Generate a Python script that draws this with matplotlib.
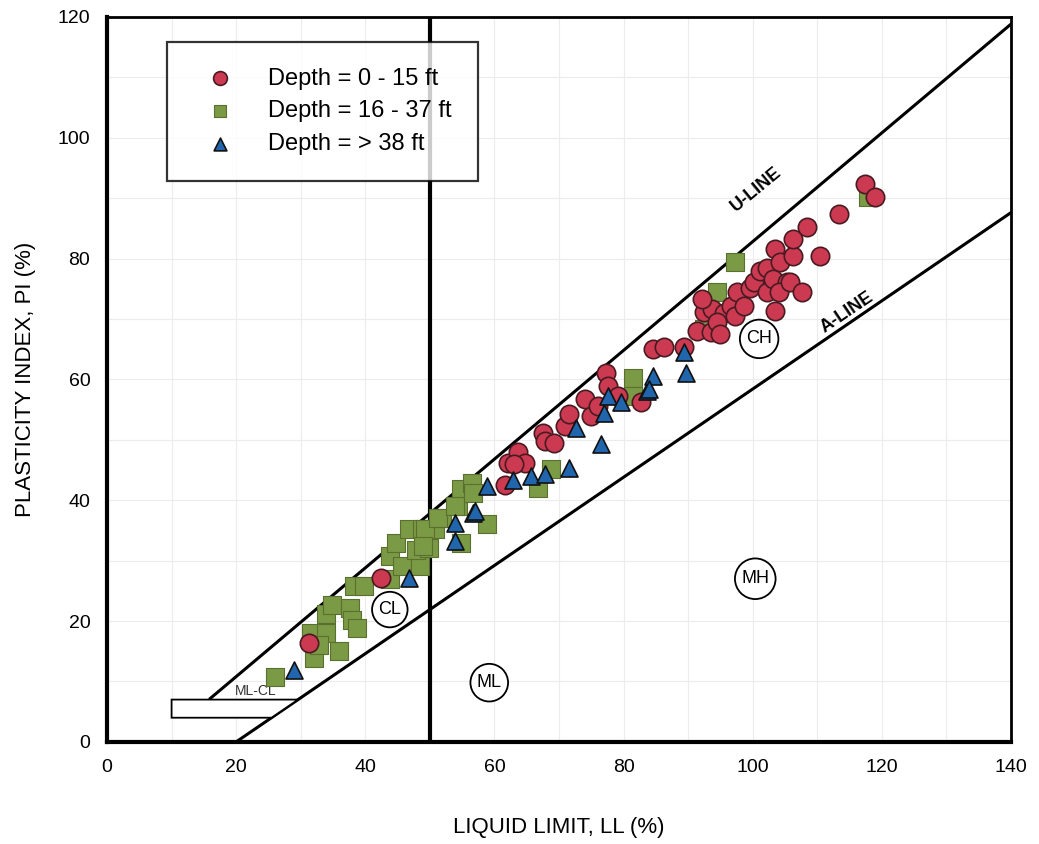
import numpy as np
import matplotlib.pyplot as plt
from matplotlib.patches import Polygon

# data
red_x = [31.3, 42.4, 61.6, 62.1, 63.7, 64.7, 63.0, 67.5, 67.8, 69.3, 70.9, 71.6, 74.0, 75.0, 76.0,
         77.3, 77.6, 79.1, 82.7, 84.5, 86.3, 89.4, 91.4, 93.5, 92.5, 93.7, 92.2, 95.5, 96.6, 97.3,
         97.6, 98.6, 99.6, 100.2, 101.2, 102.2, 102.2, 103.2, 103.5, 103.5, 104.3, 105.3, 104.0,
         105.8, 106.3, 106.3, 107.6, 108.4, 110.4, 113.3, 117.4, 118.9, 94.5, 95.0]
red_y = [16.4, 27.1, 42.6, 46.2, 47.9, 46.2, 46.0, 51.2, 49.8, 49.5, 52.3, 54.2, 56.7, 53.9, 55.6,
         61.1, 58.9, 57.3, 56.2, 65.0, 65.3, 65.3, 68.0, 67.8, 71.1, 71.6, 73.3, 71.0, 72.2, 70.5,
         74.4, 72.2, 75.2, 76.1, 78.0, 74.4, 78.5, 76.6, 71.4, 81.6, 79.4, 76.1, 74.4,
         76.1, 80.5, 83.3, 74.4, 85.2, 80.5, 87.4, 92.4, 90.2, 69.5, 67.5]

green_x = [26.0, 32.1, 32.1, 31.6, 33.9, 32.8, 35.9, 33.9, 34.9, 38.2, 39.8, 37.7, 38.0, 38.7,
           43.9, 43.9, 45.7, 48.5, 44.7, 47.8, 49.8, 46.7, 48.8, 50.8, 51.9, 54.4, 54.9, 54.9,
           49.3, 49.0, 51.3, 53.9, 56.5, 56.7, 58.8, 66.8, 68.8, 81.4, 81.4, 92.5, 94.5, 97.3, 117.8]
green_y = [10.8, 13.9, 16.4, 18.0, 18.0, 16.1, 15.0, 21.1, 22.7, 25.8, 25.8, 22.2, 20.2, 18.9,
           26.9, 30.7, 29.1, 29.1, 33.0, 31.8, 32.1, 35.2, 35.2, 35.2, 37.1, 39.0, 41.8, 33.0,
           35.2, 32.4, 37.1, 39.0, 42.9, 41.2, 36.0, 42.1, 45.1, 60.3, 57.3, 68.3, 74.4, 79.4, 90.2]

blue_x = [28.9, 46.7, 53.9, 53.9, 56.7, 57.0, 58.8, 62.9, 65.7, 67.8, 71.6, 72.7, 76.5, 77.0,
          77.6, 79.6, 83.7, 84.5, 89.4, 89.6, 84.0]
blue_y = [11.9, 27.1, 36.3, 33.2, 37.9, 38.2, 42.3, 43.4, 44.0, 44.3, 45.4, 52.0, 49.3, 54.5,
          57.3, 56.2, 58.1, 60.6, 64.5, 61.1, 58.4]

labels = ['Depth = 0 - 15 ft', 'Depth = 16 - 37 ft', 'Depth = > 38 ft']
zones = ['CL', 'ML', 'CH', 'MH']
zone_x = [43.8, 59.2, 101.0, 100.4]
zone_y = [21.9, 9.8, 66.7, 27.0]

plt.rcParams['font.family'] = ['Liberation Sans', 'DejaVu Sans']

fig = plt.figure(figsize=(10.39, 8.44), dpi=100)
ax = fig.add_axes([0.103, 0.121, 0.870, 0.859])
ax.set_xlim(0, 140)
ax.set_ylim(0, 120)

# faint grid
ax.set_xticks(np.arange(0, 141, 20))
ax.set_yticks(np.arange(0, 121, 20))
ax.set_xticks(np.arange(0, 141, 10), minor=True)
ax.set_yticks(np.arange(0, 121, 10), minor=True)
ax.grid(which='both', color='#ececec', lw=0.8, zorder=0)
ax.tick_params(which='both', length=0, labelsize=14, pad=12)

for s in ['left', 'bottom']:
    ax.spines[s].set_linewidth(3)
for s in ['top', 'right']:
    ax.spines[s].set_linewidth(2)

# U-line, A-line, LL=50
ux = np.array([16, 141.5])
ax.plot(ux, 0.9 * (ux - 8), color='black', lw=2.2, zorder=2)
axl = np.array([20, 140])
ax.plot(axl, 0.73 * (axl - 20), color='black', lw=2.2, zorder=2)
ax.axvline(50, color='black', lw=3, zorder=2)

# ML-CL band
ax.add_patch(Polygon([(10, 4), (20 + 4 / 0.73, 4), (20 + 7 / 0.73, 7), (10, 7)],
                     closed=True, facecolor='white', edgecolor='black', lw=1.3, zorder=2))
ax.text(23, 7.2, 'ML-CL', fontsize=10, ha='center', va='bottom', color='#333333', zorder=3)

ax.text(100.5, 91.5, 'U-LINE', fontsize=13, fontweight='bold', rotation=39.5,
        ha='center', va='center', zorder=3)
ax.text(114.6, 71.0, 'A-LINE', fontsize=13, fontweight='bold', rotation=34,
        ha='center', va='center', zorder=3)

ax.scatter(green_x, green_y, marker='s', s=150, color='#7b9a45', edgecolors='#5a7030',
           linewidths=0.8, zorder=4, label=labels[1])
ax.scatter(blue_x, blue_y, marker='^', s=150, color='#2166ac', edgecolors='#111111',
           linewidths=1.2, zorder=5, label=labels[2])
ax.scatter(red_x, red_y, marker='o', s=175, color='#cc3a52', edgecolors='#4a1a22',
           linewidths=1.2, zorder=4, label=labels[0])

for name, zx, zy in zip(zones, zone_x, zone_y):
    ax.text(zx, zy, name, fontsize=13, ha='center', va='center', zorder=6,
            bbox=dict(boxstyle='circle,pad=0.35', facecolor='white', edgecolor='black', lw=1.3))

h, l = ax.get_legend_handles_labels()
order = [2, 0, 1]
leg = ax.legend([h[i] for i in order], [l[i] for i in order], loc='upper left',
                bbox_to_anchor=(0.066, 0.966), fontsize=17, frameon=True, fancybox=False,
                borderpad=1.1, handletextpad=0.9, labelspacing=0.45, markerscale=0.75,
                borderaxespad=0, handlelength=2.3)
leg.get_frame().set_edgecolor('black')
leg.get_frame().set_linewidth(1.6)
leg.set_zorder(10)

ax.set_xlabel('LIQUID LIMIT, LL (%)', fontsize=16, labelpad=30)
ax.set_ylabel('PLASTICITY INDEX, PI (%)', fontsize=16, labelpad=16)

fig.savefig('out.png', dpi=100)
